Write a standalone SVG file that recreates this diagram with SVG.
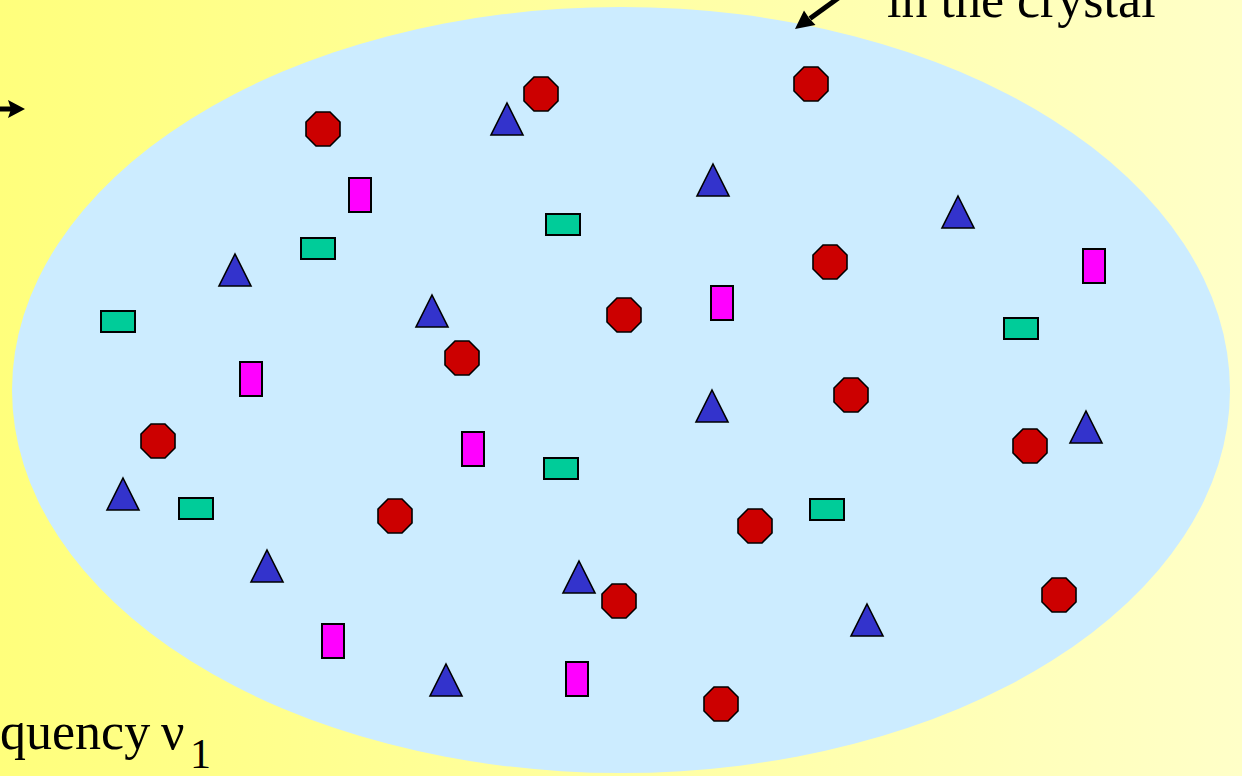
<svg xmlns="http://www.w3.org/2000/svg" xmlns:xlink="http://www.w3.org/1999/xlink" width="1242" height="776" viewBox="0 0 1242 776">
<defs>
<linearGradient id="bg" x1="0" y1="0" x2="1" y2="0">
<stop offset="0" stop-color="#FFFF7C"/>
<stop offset="1" stop-color="#FFFFC8"/>
</linearGradient>
<polygon id="oct" points="-7,-17 7,-17 17,-7 17,7 7,17 -7,17 -17,7 -17,-7"/>
<polygon id="tri" points="0,-16 16,16 -16,16"/>
<rect id="pk" x="-11" y="-17" width="22" height="34"/>
<rect id="gr" x="-17" y="-10" width="34" height="21"/>
</defs>
<style>
.o{fill:#CC0000;stroke:#000;stroke-width:1.6}
.t{fill:#3333CC;stroke:#000;stroke-width:1.6;stroke-linejoin:miter}
.p{fill:#FF00FF;stroke:#000;stroke-width:2}
.g{fill:#00CC99;stroke:#000;stroke-width:2}
.lbl{font-family:"Liberation Serif","Times New Roman",serif;font-size:52px;fill:#000}
.sub{font-family:"Liberation Serif","Times New Roman",serif;font-size:42px;fill:#000}
</style>
<rect x="0" y="0" width="1242" height="776" fill="url(#bg)"/>
<g id="crystal">
<ellipse cx="621" cy="390" rx="609" ry="383" fill="#CCECFF"/>
</g>
<g id="labels">
<text class="lbl" x="887" y="17">in the crystal</text>
<text class="lbl" x="0" y="749">quency</text>
<text class="lbl" x="161" y="749">ν</text>
<text class="sub" x="190" y="768">1</text>
</g>
<g id="connectors">
<line x1="-2" y1="109" x2="12" y2="109" stroke="#000" stroke-width="5"/>
<polygon points="8,100 25,109 8,118 11,109" fill="#000"/>
<line x1="848" y1="-9" x2="810" y2="18.5" stroke="#000" stroke-width="5"/>
<polygon points="795,29 804,10.5 809,18 815.5,25" fill="#000"/>
</g>
<g id="octagons">
<g id="o1"><use href="#oct" class="o" x="541" y="94"/></g>
<g id="o2"><use href="#oct" class="o" x="811" y="84"/></g>
<g id="o3"><use href="#oct" class="o" x="323" y="129"/></g>
<g id="o4"><use href="#oct" class="o" x="830" y="262"/></g>
<g id="o5"><use href="#oct" class="o" x="624" y="315"/></g>
<g id="o6"><use href="#oct" class="o" x="462" y="358"/></g>
<g id="o7"><use href="#oct" class="o" x="851" y="395"/></g>
<g id="o8"><use href="#oct" class="o" x="158" y="441"/></g>
<g id="o9"><use href="#oct" class="o" x="1030" y="446"/></g>
<g id="o10"><use href="#oct" class="o" x="395" y="516"/></g>
<g id="o11"><use href="#oct" class="o" x="755" y="526"/></g>
<g id="o12"><use href="#oct" class="o" x="619" y="601"/></g>
<g id="o13"><use href="#oct" class="o" x="1059" y="595"/></g>
<g id="o14"><use href="#oct" class="o" x="721" y="704"/></g>
</g>
<g id="triangles">
<g id="t1"><use href="#tri" class="t" x="507" y="119"/></g>
<g id="t2"><use href="#tri" class="t" x="713" y="180"/></g>
<g id="t3"><use href="#tri" class="t" x="958" y="212"/></g>
<g id="t4"><use href="#tri" class="t" x="235" y="270"/></g>
<g id="t5"><use href="#tri" class="t" x="432" y="311"/></g>
<g id="t6"><use href="#tri" class="t" x="712" y="406"/></g>
<g id="t7"><use href="#tri" class="t" x="1086" y="427"/></g>
<g id="t8"><use href="#tri" class="t" x="123" y="494"/></g>
<g id="t9"><use href="#tri" class="t" x="267" y="566"/></g>
<g id="t10"><use href="#tri" class="t" x="579" y="577"/></g>
<g id="t11"><use href="#tri" class="t" x="867" y="620"/></g>
<g id="t12"><use href="#tri" class="t" x="446" y="680"/></g>
</g>
<g id="pinks">
<g id="p1"><use href="#pk" class="p" x="360" y="195"/></g>
<g id="p2"><use href="#pk" class="p" x="1094" y="266"/></g>
<g id="p3"><use href="#pk" class="p" x="722" y="303"/></g>
<g id="p4"><use href="#pk" class="p" x="251" y="379"/></g>
<g id="p5"><use href="#pk" class="p" x="473" y="449"/></g>
<g id="p6"><use href="#pk" class="p" x="333" y="641"/></g>
<g id="p7"><use href="#pk" class="p" x="577" y="679"/></g>
</g>
<g id="greens">
<g id="g1"><use href="#gr" class="g" x="563" y="224"/></g>
<g id="g2"><use href="#gr" class="g" x="318" y="248"/></g>
<g id="g3"><use href="#gr" class="g" x="118" y="321"/></g>
<g id="g4"><use href="#gr" class="g" x="1021" y="328"/></g>
<g id="g5"><use href="#gr" class="g" x="561" y="468"/></g>
<g id="g6"><use href="#gr" class="g" x="196" y="508"/></g>
<g id="g7"><use href="#gr" class="g" x="827" y="509"/></g>
</g>
</svg>
